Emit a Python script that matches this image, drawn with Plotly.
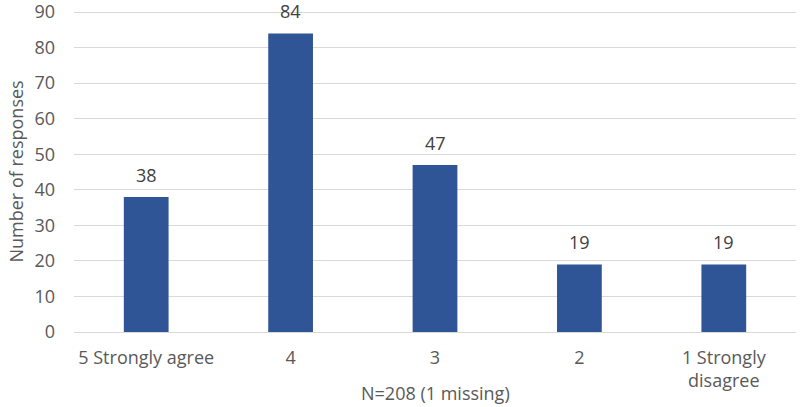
import plotly.graph_objects as go

categories = ["5 Strongly agree", "4", "3", "2", "1 Strongly<br>disagree"]
values = [38, 84, 47, 19, 19]
y_ticks = [0, 10, 20, 30, 40, 50, 60, 70, 80, 90]
x_title = "N=208 (1 missing)"
y_title = "Number of responses"

font_family = "Open Sans, Liberation Sans, sans-serif"
text_color = "#595959"
FS = 18

fig = go.Figure()
fig.add_trace(go.Bar(x=categories, y=values, marker_color="#2F5597",
                     marker_line_width=0, showlegend=False, hoverinfo="skip"))

for i, v in enumerate(values):
    fig.add_annotation(x=i, y=v, xref="x", yref="y", text=str(v), showarrow=False,
                       yanchor="bottom", yshift=9, borderpad=0,
                       font=dict(size=FS, color="#404040", family=font_family))

fig.add_annotation(x=0.5, y=-0.19, xref="paper", yref="paper", text=x_title,
                   showarrow=False, xanchor="center", yanchor="middle",
                   font=dict(size=FS, color=text_color, family=font_family))
fig.add_annotation(x=-0.0817, y=0.50, xref="paper", yref="paper", text=y_title,
                   showarrow=False, xanchor="center", yanchor="middle", textangle=-90,
                   font=dict(size=FS, color=text_color, family=font_family))

fig.update_layout(
    width=800, height=407,
    margin=dict(l=74, r=4, t=11, b=75),
    plot_bgcolor="white", paper_bgcolor="white",
    bargap=0.69,
    font=dict(family=font_family, size=FS, color=text_color),
    xaxis=dict(type="category", showgrid=False, showline=False, zeroline=False,
               automargin=False, ticklabelstandoff=13,
               tickfont=dict(size=FS, color=text_color)),
    yaxis=dict(range=[0, 90.3], tickvals=y_ticks, showgrid=True, automargin=False,
               gridcolor="#D9D9D9", gridwidth=1, zeroline=True,
               zerolinecolor="#D9D9D9", zerolinewidth=1, ticklabeloverflow="allow",
               ticklabelstandoff=18, tickfont=dict(size=FS, color=text_color)),
)

fig.write_html("out.html", config={"displayModeBar": False},
               post_script="document.body.style.margin='0';document.body.style.padding='0';")
